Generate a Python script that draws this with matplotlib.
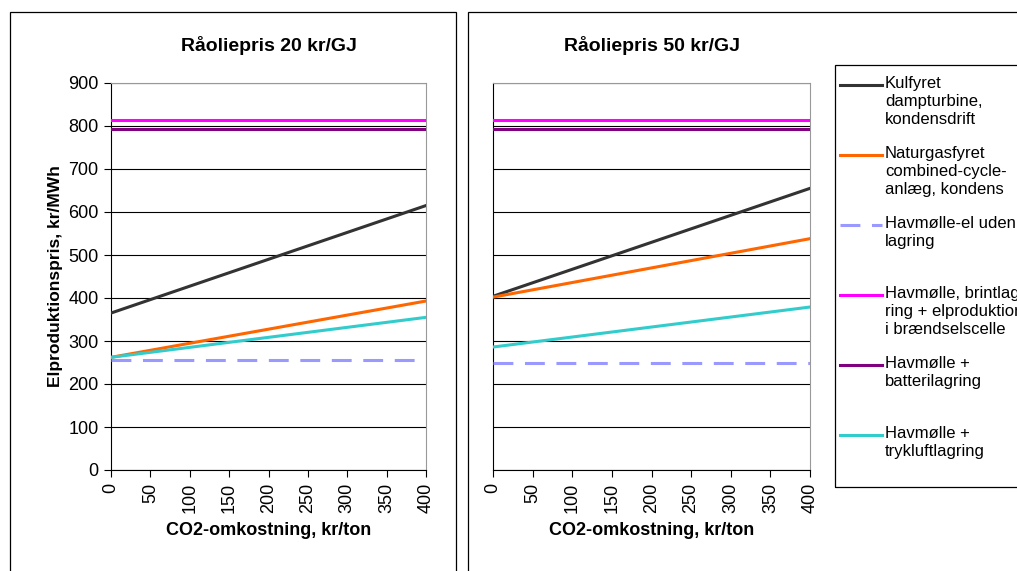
import numpy as np
import matplotlib
matplotlib.use("Agg")
import matplotlib.pyplot as plt
from matplotlib.lines import Line2D
from matplotlib.patches import Rectangle

plt.rcParams['font.family'] = ['Liberation Sans', 'DejaVu Sans']

# CO2 cost, kr/ton (end points of each straight line)
co2 = [0, 400]

# Electricity production price, kr/MWh - crude oil price 20 kr/GJ
kul_20 = [365, 615]
naturgas_20 = [262, 393]
havmolle_20 = [255, 255]
brint_20 = [813, 813]
batteri_20 = [793, 793]
trykluft_20 = [262, 355]

# crude oil price 50 kr/GJ
kul_50 = [404, 655]
naturgas_50 = [402, 538]
havmolle_50 = [248, 248]
brint_50 = [813, 813]
batteri_50 = [793, 793]
trykluft_50 = [286, 379]

titles = ["Råoliepris 20 kr/GJ", "Råoliepris 50 kr/GJ"]
labels = [
    "Kulfyret\ndampturbine,\nkondensdrift",
    "Naturgasfyret\ncombined-cycle-\nanlæg, kondens",
    "Havmølle-el uden\nlagring",
    "Havmølle, brintlag-\nring + elproduktion\ni brændselscelle",
    "Havmølle +\nbatterilagring",
    "Havmølle +\ntrykluftlagring",
]
colors = ["#333333", "#FF6600", "#9999FF", "#FF00FF", "#800080", "#33CCCC"]
series = [
    [kul_20, naturgas_20, havmolle_20, brint_20, batteri_20, trykluft_20],
    [kul_50, naturgas_50, havmolle_50, brint_50, batteri_50, trykluft_50],
]

W, H = 1017, 571
fig = plt.figure(figsize=(W / 100, H / 100), dpi=100)

# chart frames
fig.add_artist(Rectangle((10 / W, -0.05), 446 / W, 1.05 - 12 / H, transform=fig.transFigure,
                         fill=False, edgecolor="black", lw=0.9))
fig.add_artist(Rectangle((468 / W, -0.05), 0.6, 1.05 - 12 / H, transform=fig.transFigure,
                         fill=False, edgecolor="black", lw=0.9))

ax_left = [111 / W, 493 / W]
ax_width = [315 / W, 317 / W]
bottom = 1 - 470 / H
height = 387 / H

for i in range(2):
    ax = fig.add_axes([ax_left[i], bottom, ax_width[i], height])
    for j, ys in enumerate(series[i]):
        if j == 2:
            ax.plot(co2, ys, color=colors[j], lw=2.2, dashes=(6.5, 3.8), zorder=3)
        else:
            ax.plot(co2, ys, color=colors[j], lw=2.2, zorder=3)
    ax.set_xlim(0, 400)
    ax.set_ylim(0, 900)
    ax.set_xticks(np.arange(0, 401, 50))
    ax.set_yticks(np.arange(0, 901, 100))
    ax.tick_params(axis='x', labelrotation=90, direction='out', length=5, labelsize=13, pad=4)
    ax.tick_params(axis='y', direction='out', length=5, labelsize=13, pad=4)
    if i == 1:
        ax.tick_params(axis='y', labelleft=False, length=0)
    ax.grid(axis='y', color='black', lw=0.8)
    ax.set_axisbelow(True)
    for s in ['top', 'right']:
        ax.spines[s].set_color('#999999')
    for s in ['left', 'bottom']:
        ax.spines[s].set_color('black')
    ax.set_title(titles[i], fontsize=14, fontweight='bold', pad=0, y=1 + (83 - 45) / 387 - 0.015)
    ax.set_xlabel("CO2-omkostning, kr/ton", fontsize=13, fontweight='bold', labelpad=7)
    if i == 0:
        ax.set_ylabel("Elproduktionspris, kr/MWh", fontsize=12.5, fontweight='bold', labelpad=4)

# legend
fig.add_artist(Rectangle((835 / W, 1 - 487 / H), 0.3, 422 / H, transform=fig.transFigure,
                         fill=False, edgecolor="black", lw=0.9))
for j, lab in enumerate(labels):
    yy = 1 - (85 + 70 * j) / H
    kw = dict(dashes=(6.5, 3.8)) if j == 2 else {}
    fig.add_artist(Line2D([840 / W, 882 / W], [yy, yy], transform=fig.transFigure,
                          color=colors[j], lw=2.2, **kw))
    fig.text(885 / W, yy + 9 / H, lab, fontsize=12, va='top', ha='left', linespacing=1.25)

fig.savefig("out.png", dpi=100)
